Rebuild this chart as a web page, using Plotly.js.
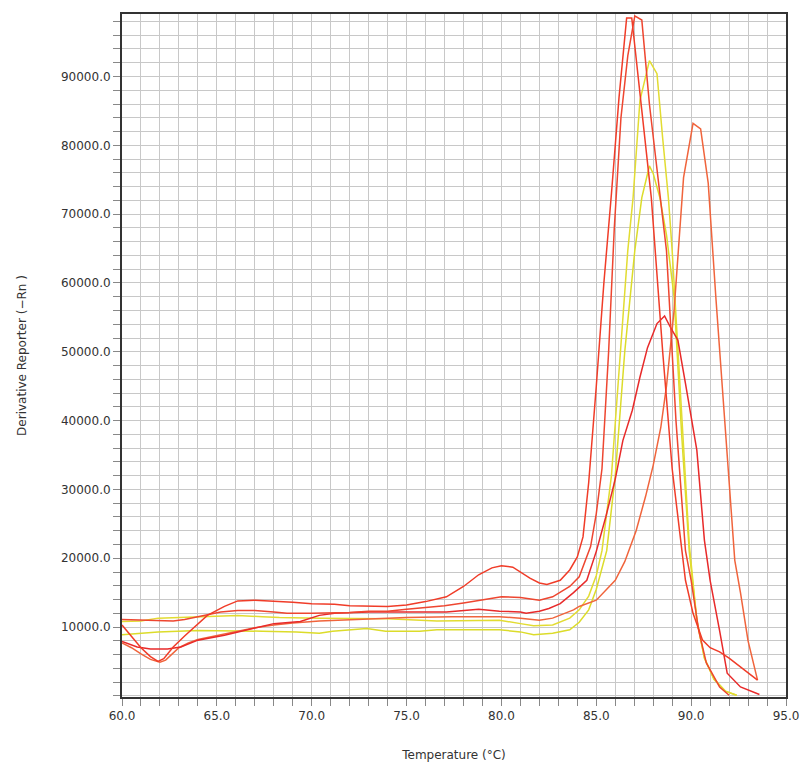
<!DOCTYPE html>
<html>
<head>
<meta charset="utf-8">
<script src="https://cdn.plot.ly/plotly-3.0.1.min.js"></script>
<style>html,body{margin:0;padding:0;background:#fff;}#chart{width:801px;height:766px;}</style>
</head>
<body>
<div id="chart"></div>
<script>
// Temperature (°C) and derivative reporter values
const red1T = [60,60.5,61,61.5,61.9,62.2,62.7,63.3,63.8,64.5,65.4,66.1,67,68,69,70,71.2,72,73,74,75,76,77.1,78,78.8,79.5,80,80.6,81.5,82,82.4,83.1,83.6,84,84.3,84.6,85,85.4,85.8,86.2,86.6,86.87,87.9,88.1,88.5,89,89.5,89.7,90.1,90.6,91,91.5,92,92.6,93,93.5];
const red1Y = [10300,8700,7000,5700,5000,5400,7100,8700,9900,11700,13000,13800,13900,13800,13600,13400,13300,13100,13000,13000,13200,13700,14400,15900,17600,18600,18900,18700,17100,16400,16200,16800,18300,20200,23100,31000,45000,60000,73000,87000,98500,98500,72400,64700,50000,33000,21100,16800,12000,8100,7000,6400,5500,4200,3300,2300];

const red2T = [60,61,62,62.7,63.3,64,65.2,66.1,67,68,68.7,70,71.2,72,73,74,75,77,78,79,80,81,82,82.7,83.6,84.1,84.7,85,85.3,85.65,85.95,86.3,86.66,87.03,87.4,87.8,88.35,88.7,89.2,89.7,90,90.4,90.8,91.5,92];
const red2Y = [11100,11000,11000,10900,11100,11500,12200,12400,12400,12200,12000,12000,12000,12100,12300,12300,12600,13100,13500,14000,14400,14300,13900,14400,15900,17300,21700,26500,33000,50000,68000,84000,93000,98800,98200,86000,72400,64700,40000,21100,16800,9500,4800,1300,100];

const red3T = [60,60.8,61.5,62.4,63.1,64,65.4,66.6,68,69.4,70.4,71.2,73,75,77.1,78.8,79.9,81,81.3,82,82.5,83.1,83.8,84.5,85,85.5,86,86.4,86.9,87.3,87.7,88.2,88.6,88.9,89.3,89.7,90.3,90.7,91,91.5,91.9,92.6,93.6];
const red3Y = [7900,7100,6800,6800,7100,8100,8800,9600,10500,10800,11700,12000,12200,12200,12200,12600,12300,12200,12000,12300,12700,13400,15000,16800,21000,26000,31500,37100,41500,46300,50600,54100,55200,53600,51700,45400,35700,22600,16800,9500,3300,1300,200];

const orangeT = [60,60.5,61,61.5,62,62.3,63,63.5,64,65,66,67,68,69,70.4,72,73.9,75,77.4,79.9,81,82,82.7,83.8,84.1,85,86,86.5,87.1,87.6,88,88.4,88.7,89.1,89.6,90.1,90.5,90.9,91.3,91.7,92.3,92.6,93,93.5];
const orangeY = [7700,7000,6100,5300,4900,5200,7000,7700,8200,8800,9400,9900,10300,10600,10900,11100,11300,11400,11500,11500,11300,11000,11300,12500,13000,13900,16800,19500,24000,29000,33500,39000,45000,56000,75300,83200,82400,74500,58000,43000,19700,15000,8000,2300];

const yellow1T = [60,61,61.9,63,64,65,66.1,67.4,68.3,70.4,72,74,76.6,78.3,79.9,81,81.7,82.7,83.6,84.1,84.6,85,85.3,85.8,86.2,86.66,86.94,87.3,87.8,88.2,88.5,88.8,89,89.4,89.9,90.3,90.7,91.2,91.8,92.4];
const yellow1Y = [10800,10900,11300,11400,11500,11600,11700,11500,11400,11300,11300,11200,10900,11000,11000,10500,10200,10300,11300,12500,14500,17500,21100,32000,47000,64700,72400,86500,92300,90400,81000,72400,64700,46000,22000,11000,5500,2500,700,100];

const yellow2T = [60,61.1,61.9,64,66.1,67.4,69.2,70.4,71.1,72.9,73.9,75.7,76.6,79.9,81,81.7,82.7,83.6,84.1,84.6,85,85.55,86,86.5,87.03,87.4,87.8,88,88.35,88.7,89.1,89.5,89.9,90.3,90.7,91.2,91.8,92.4];
const yellow2Y = [8900,9100,9300,9500,9500,9400,9300,9100,9400,9800,9400,9400,9600,9600,9300,8900,9100,9600,10700,12500,15500,21100,32000,50000,64700,72400,77000,75900,72400,67000,58000,38000,21000,11000,5500,2400,700,100];

const series = [
  {x: yellow2T, y: yellow2Y, c: '#dcdc2a'},
  {x: yellow1T, y: yellow1Y, c: '#e2dc32'},
  {x: orangeT, y: orangeY, c: '#f0643c'},
  {x: red3T, y: red3Y, c: '#e82a2a'},
  {x: red2T, y: red2Y, c: '#ee4630'},
  {x: red1T, y: red1Y, c: '#f03c28'}
];

const traces = series.map(s => ({
  x: s.x, y: s.y, type: 'scatter', mode: 'lines',
  line: {color: s.c, width: 1.5, shape: 'linear'},
  hoverinfo: 'skip', showlegend: false
}));

const font = {family: 'DejaVu Sans, sans-serif', size: 12, color: '#333'};

const layout = {
  width: 801, height: 766,
  margin: {l: 122, r: 15, t: 14, b: 69},
  paper_bgcolor: '#fff', plot_bgcolor: '#fff',
  font: font,
  showlegend: false,
  xaxis: {
    range: [60, 95], tickmode: 'linear', tick0: 60, dtick: 1, ticklabelstep: 5, tickformat: '.1f',
    ticks: 'outside', ticklen: 7, tickcolor: '#888', tickwidth: 1,
    showgrid: true, gridcolor: '#c8c8c8', gridwidth: 1,
    showline: true, linecolor: '#333', linewidth: 2, mirror: true,
    zeroline: false,
    tickfont: font,
    title: {text: 'Temperature (°C)', font: font, standoff: 28}
  },
  yaxis: {
    range: [-160, 99080], tickmode: 'linear', tick0: 0, dtick: 2000, ticklabelstep: 5, tickformat: '.1f',
    labelalias: {'0.0': ' '},
    ticks: 'outside', ticklen: 7, tickcolor: '#888', tickwidth: 1,
    showgrid: true, gridcolor: '#c8c8c8', gridwidth: 1,
    showline: true, linecolor: '#333', linewidth: 2, mirror: true,
    zeroline: false,
    tickfont: font,
    title: {text: 'Derivative Reporter (−Rn )', font: font, standoff: 32}
  }
};

Plotly.newPlot('chart', traces, layout, {displayModeBar: false, staticPlot: true});
</script>
</body>
</html>
